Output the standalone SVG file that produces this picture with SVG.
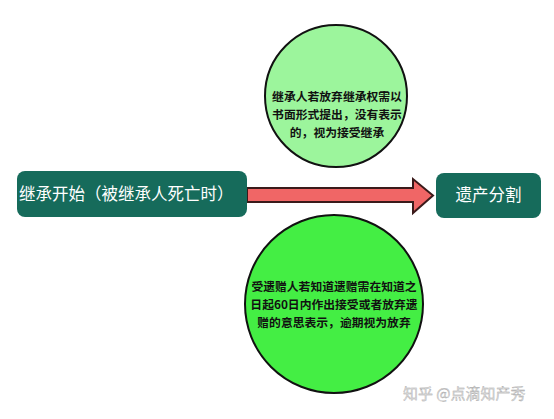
<svg xmlns="http://www.w3.org/2000/svg" width="554" height="419" viewBox="0 0 554 419">
<style>
.box{fill:#166B5B;}
.bt{fill:#ffffff;font-family:"Noto Sans CJK SC","Noto Sans",sans-serif;font-size:16.5px;}
.ct{fill:#111111;font-family:"Noto Sans CJK SC","Noto Sans",sans-serif;font-size:11.8px;font-weight:bold;text-anchor:middle;}
.circ{stroke:#111111;stroke-width:2;}
.wm{fill:#dddddd;font-family:"Noto Sans CJK SC","Noto Sans",sans-serif;font-size:15px;stroke:#a0a0a0;stroke-width:0.3;}
</style>
<rect width="554" height="419" fill="#ffffff"/>
<g id="connectors">
<polygon points="247,188 413,188 413,179 433,195.5 413,213 413,202 247,202" fill="#F06666" stroke="#3a1a1a" stroke-width="2" stroke-linejoin="miter"/>
</g>
<g id="top-circle">
<circle class="circ" cx="336" cy="96" r="71" fill="#9CF59C"/>
<text class="ct" x="337" y="101">继承人若放弃继承权需以</text>
<text class="ct" x="337" y="119">书面形式提出，没有表示</text>
<text class="ct" x="337" y="137">的，视为接受继承</text>
</g>
<g id="bottom-circle">
<circle class="circ" cx="334" cy="304" r="89" fill="#44EE44"/>
<text class="ct" x="334" y="291">受遗赠人若知道遗赠需在知道之</text>
<text class="ct" x="334" y="309">日起60日内作出接受或者放弃遗</text>
<text class="ct" x="334" y="327">赠的意思表示，逾期视为放弃</text>
</g>
<g id="start">
<rect class="box" x="17" y="171" width="230" height="46" rx="8"/>
<text class="bt" x="19" y="200">继承开始（被继承人死亡时）</text>
</g>
<g id="end">
<rect class="box" x="436" y="173" width="105" height="45" rx="8"/>
<text class="bt" x="488.5" y="201" text-anchor="middle">遗产分割</text>
</g>
<text class="wm" x="403" y="399">知乎 @点滴知产秀</text>
</svg>
